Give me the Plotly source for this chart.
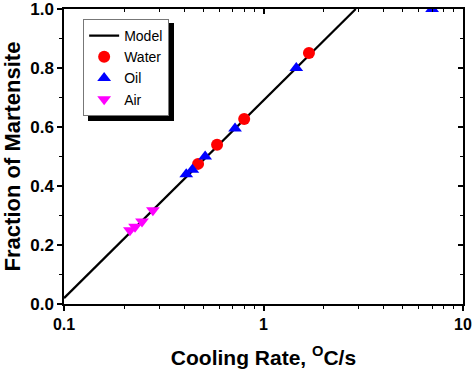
import plotly.graph_objects as go

model_x = [0.1, 2.9]
model_y = [0.02, 1.0]

water_x = [0.47, 0.585, 0.80, 1.69]
water_y = [0.475, 0.54, 0.627, 0.851]

oil_x = [0.41, 0.44, 0.51, 0.72, 1.46, 7.0]
oil_y = [0.44, 0.455, 0.50, 0.595, 0.80, 1.0]

air_x = [0.214, 0.227, 0.246, 0.279]
air_y = [0.25, 0.262, 0.28, 0.318]

x_tickvals = [0.1, 1, 10]
x_ticktext = ["0.1", "1", "10"]
x_minor = [0.2, 0.3, 0.4, 0.5, 0.6, 0.7, 0.8, 0.9, 2, 3, 4, 5, 6, 7, 8, 9]
y_tickvals = [0.0, 0.2, 0.4, 0.6, 0.8, 1.0]
y_minor = [0.1, 0.3, 0.5, 0.7, 0.9]

FONT = "Liberation Sans, Arial, sans-serif"

fig = go.Figure()
fig.add_trace(go.Scatter(x=model_x, y=model_y, mode="lines", name="Model",
                         line=dict(color="black", width=2.2)))
fig.add_trace(go.Scatter(x=water_x, y=water_y, mode="markers", name="Water",
                         marker=dict(symbol="circle", color="#ff0000", size=12)))
fig.add_trace(go.Scatter(x=oil_x, y=oil_y, mode="markers", name="Oil",
                         marker=dict(symbol="triangle-up", color="#0000ff", size=12)))
fig.add_trace(go.Scatter(x=air_x, y=air_y, mode="markers", name="Air",
                         marker=dict(symbol="triangle-down", color="#ff00ff", size=12)))
# invisible trace to show mirrored top/right axes
fig.add_trace(go.Scatter(x=[1], y=[0.5], xaxis="x2", yaxis="y2", mode="markers",
                         marker=dict(opacity=0), showlegend=False, hoverinfo="skip"))

fig.update_layout(
    width=473, height=369,
    margin=dict(l=64, r=10, t=9, b=65, autoexpand=False),
    paper_bgcolor="white", plot_bgcolor="white",
    font=dict(family=FONT, color="black"),
    showlegend=True,
    legend=dict(x=0.048, y=0.966, xanchor="left", yanchor="top",
                bgcolor="white", bordercolor="#777", borderwidth=1,
                font=dict(family=FONT, size=14, color="black"),
                tracegroupgap=0, itemwidth=30),
    xaxis=dict(type="log", range=[-1, 1], showgrid=False, zeroline=False, automargin=False,
               showline=True, linecolor="black", linewidth=1.5, ticklabeloverflow="allow",
               ticks="outside", ticklen=5, tickwidth=1.5, tickcolor="black",
               tickvals=x_tickvals, ticktext=x_ticktext,
               tickfont=dict(family=FONT, size=16, color="black", weight="bold"),
               minor=dict(tickvals=x_minor, ticks="outside", ticklen=3, tickwidth=1.2, tickcolor="black", showgrid=False),
               title=dict(text="Cooling Rate, <sup>O</sup>C/s", standoff=20,
                          font=dict(family=FONT, size=21, color="black", weight="bold"))),
    yaxis=dict(range=[0, 1], showgrid=False, zeroline=False, automargin=False,
               showline=True, linecolor="black", linewidth=1.5, ticklabeloverflow="allow",
               ticks="outside", ticklen=5, tickwidth=1.5, tickcolor="black",
               tickvals=y_tickvals, tickformat=".1f",
               tickfont=dict(family=FONT, size=17, color="black", weight="bold"),
               minor=dict(tickvals=y_minor, ticks="outside", ticklen=3, tickwidth=1.2, tickcolor="black", showgrid=False),
               title=dict(text="Fraction of Martensite", standoff=6,
                          font=dict(family=FONT, size=22, color="black", weight="bold"))),
    xaxis2=dict(type="log", range=[-1, 1], overlaying="x", side="top", showgrid=False,
                zeroline=False, showline=True, linecolor="black", linewidth=1.5, automargin=False,
                ticks="inside", ticklen=5, tickwidth=1.5, tickcolor="black",
                tickvals=x_tickvals, showticklabels=False,
                minor=dict(tickvals=x_minor, ticks="inside", ticklen=3, tickwidth=1.2, tickcolor="black")),
    yaxis2=dict(range=[0, 1], overlaying="y", side="right", showgrid=False,
                zeroline=False, showline=True, linecolor="black", linewidth=1.5, automargin=False,
                ticks="inside", ticklen=5, tickwidth=1.5, tickcolor="black",
                tickvals=y_tickvals, showticklabels=False,
                minor=dict(tickvals=y_minor, ticks="inside", ticklen=3, tickwidth=1.2, tickcolor="black")),
)

# legend drop shadow (legend box spans about x 83-170, y 19-117 px)
fig.add_shape(type="rect", xref="paper", yref="paper",
              x0=(88 - 64) / 399, x1=(174 - 64) / 399,
              y0=(304 - 121) / 295, y1=(304 - 23) / 295,
              fillcolor="black", line=dict(width=0), layer="above")

fig.write_html("out.html", config={"displayModeBar": False},
               post_script="document.body.style.margin='0';")
